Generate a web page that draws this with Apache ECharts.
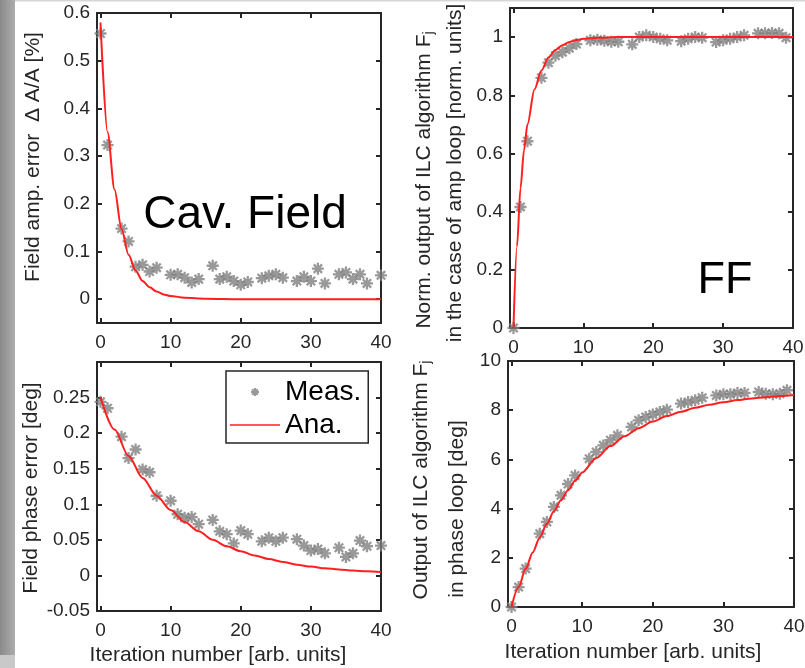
<!DOCTYPE html>
<html>
<head>
<meta charset="utf-8">
<script src="https://cdn.jsdelivr.net/npm/echarts@6/dist/echarts.min.js"></script>
<style>
  html, body { margin: 0; padding: 0; background: #fff; }
  #chart { width: 805px; height: 668px; }
</style>
</head>
<body>
<div id="chart"></div>
<script>
// iteration index of the measured points
const iterations = [0, 1, 2, 3, 4, 5, 6, 7, 8, 9, 10, 11, 12, 13, 14, 15, 16, 17, 18, 19, 20,
  21, 22, 23, 24, 25, 26, 27, 28, 29, 30, 31, 32, 33, 34, 35, 36, 37, 38, 39, 40];

// measured values (null = no marker)
const ampMeas = [0.557, 0.323, null, 0.148, 0.121, 0.068, 0.072, 0.058, 0.066, null, 0.051,
  0.052, 0.045, 0.035, 0.042, null, 0.070, 0.042, 0.047, 0.038, 0.030,
  0.036, null, 0.044, 0.049, 0.052, 0.045, null, 0.038, 0.047, 0.038,
  0.064, 0.033, null, 0.052, 0.056, 0.042, 0.052, 0.033, null, 0.050];
const ffAmpMeas = [0, 0.416, 0.642, null, 0.860, 0.912, 0.936, 0.948, 0.962, 0.976, null,
  0.989, 0.991, 0.987, 0.984, 0.984, null, 0.975, 1.0, 1.006, 1.0,
  0.994, 0.989, null, 0.986, 0.994, 1.0, 0.998, null, 0.983, 0.989,
  0.994, 1.0, 1.006, null, 1.013, 1.013, 1.014, 1.013, 0.998, null];
const phaseMeas = [0.244, 0.235, null, 0.195, 0.165, 0.177, 0.149, 0.145, 0.112, null, 0.105,
  0.086, 0.081, 0.082, 0.072, null, 0.078, 0.062, 0.058, 0.045, 0.063,
  0.058, null, 0.048, 0.053, 0.048, 0.053, null, 0.051, 0.042, 0.035,
  0.037, 0.031, null, 0.039, 0.026, 0.031, 0.049, 0.041, null, 0.042];
const ffPhaseMeas = [0, 0.81, 1.56, null, 2.98, 3.46, 4.07, 4.54, 5.0, 5.35, null,
  6.03, 6.3, 6.57, 6.78, 6.98, null, 7.32, 7.59, 7.72, 7.83,
  7.93, 8.02, null, 8.27, 8.33, 8.4, 8.51, null, 8.6, 8.65,
  8.65, 8.7, 8.7, null, 8.74, 8.67, 8.65, 8.67, 8.81, null];

// analytic curves
const ampAnaX = [0, 1, 2, 3, 4, 5, 6, 7, 8, 9, 10, 12, 15, 20, 30, 40];
const ampAnaY = [0.58, 0.35, 0.23, 0.147, 0.093, 0.06, 0.038, 0.025, 0.016, 0.01, 0.0065, 0.003, 0.001, 0, 0, 0];
const ffAmpAnaX = [0, 0.5, 1, 1.5, 2, 3, 4, 5, 6, 7, 8, 9, 10, 12, 15, 40];
const ffAmpAnaY = [0, 0.28, 0.48, 0.61, 0.70, 0.82, 0.885, 0.93, 0.956, 0.972, 0.983, 0.99, 0.994, 0.998, 1, 1];
const phaseAnaX = [0, 2, 4, 6, 8, 10, 12, 14, 16, 18, 20, 22, 24, 26, 28, 30, 32, 34, 36, 38, 40];
const phaseAnaY = [0.25, 0.205, 0.168, 0.137, 0.112, 0.092, 0.075, 0.062, 0.05, 0.041, 0.034,
  0.028, 0.023, 0.019, 0.015, 0.0125, 0.010, 0.0085, 0.007, 0.0057, 0.0047];
const ffPhaseAnaX = [0, 1, 2, 3, 4, 5, 6, 7, 8, 9, 10, 12, 14, 16, 18, 20, 22, 24, 26, 28, 30, 32, 34, 36, 38, 40];
const ffPhaseAnaY = [0, 0.81, 1.55, 2.22, 2.83, 3.38, 3.89, 4.34, 4.75, 5.13, 5.47, 6.06, 6.54,
  6.94, 7.27, 7.54, 7.76, 7.94, 8.10, 8.22, 8.32, 8.41, 8.48, 8.53, 8.58, 8.62];

// tick labels
const xTicks = [0, 10, 20, 30, 40];
const ampTicks = [0, 0.1, 0.2, 0.3, 0.4, 0.5, 0.6];
const ffAmpTicks = [0, 0.2, 0.4, 0.6, 0.8, 1];
const phaseTicks = [-0.05, 0, 0.05, 0.1, 0.15, 0.2, 0.25];
const ffPhaseTicks = [0, 2, 4, 6, 8, 10];

const FONT = "'Liberation Sans', Arial, sans-serif";
const AXIS = '#262626';
const GREY = '#808080';
const RED = '#ff1f1f';
const STAR = 'path://M0,-1L0,1M-1,0L1,0M-0.7,-0.7L0.7,0.7M-0.7,0.7L0.7,-0.7';
// thin horizontal bar for the legend line (the bare M/L pair fixes the 50x8 box)
const LEGEND_LINE = 'path://M0,0L0,8M0,3.3L50,3.3L50,4.7L0,4.7Z';

const toPairs = (xs, ys) => xs.map((x, i) => [x, ys[i]]).filter(p => p[1] !== null);

const chart = echarts.init(document.getElementById('chart'));

const grids = [
  { left: 97, top: 13, width: 284, height: 310 },
  { left: 510, top: 8, width: 283, height: 320 },
  { left: 97, top: 362, width: 284, height: 249 },
  { left: 508, top: 361, width: 286, height: 246 }
];
const yRanges = [[-0.05, 0.6], [0, 1.1], [-0.05, 0.3], [0, 10]];
const yTicks = [ampTicks, ffAmpTicks, phaseTicks, ffPhaseTicks];

const lineStyle = { color: AXIS, width: 2 };
const xAxis = [];
const yAxis = [];
grids.forEach((g, i) => {
  ['bottom', 'top'].forEach(pos => {
    xAxis.push({
      type: 'value', gridIndex: i, position: pos, min: -0.5, max: 40,
      axisLine: { onZero: false, lineStyle },
      axisTick: { inside: true, length: 5, customValues: xTicks, lineStyle },
      axisLabel: {
        show: pos === 'bottom', customValues: xTicks, margin: 10,
        fontSize: 19, color: AXIS, fontFamily: FONT
      },
      splitLine: { show: false }
    });
  });
  ['left', 'right'].forEach(pos => {
    yAxis.push({
      type: 'value', gridIndex: i, position: pos, min: yRanges[i][0], max: yRanges[i][1],
      axisLine: { show: true, onZero: false, lineStyle },
      axisTick: { show: true, inside: true, length: 5, customValues: yTicks[i], lineStyle },
      axisLabel: {
        show: pos === 'left', customValues: yTicks[i], margin: 7,
        fontSize: 19, color: AXIS, fontFamily: FONT
      },
      splitLine: { show: false }
    });
  });
});

const meas = [ampMeas, ffAmpMeas, phaseMeas, ffPhaseMeas];
const ana = [[ampAnaX, ampAnaY], [ffAmpAnaX, ffAmpAnaY], [phaseAnaX, phaseAnaY], [ffPhaseAnaX, ffPhaseAnaY]];
const series = [];
grids.forEach((g, i) => {
  series.push({
    type: 'scatter', name: 'Meas.', xAxisIndex: 2 * i, yAxisIndex: 2 * i,
    data: toPairs(iterations, meas[i]),
    symbol: STAR, symbolSize: 12,
    itemStyle: { color: GREY, borderColor: GREY, borderWidth: 2.3 },
    z: 2
  });
  series.push({
    type: 'line', name: 'Ana.', xAxisIndex: 2 * i, yAxisIndex: 2 * i,
    data: toPairs(ana[i][0], ana[i][1]),
    showSymbol: false, symbol: 'none', smooth: 0.3, smoothMonotone: 'x',
    lineStyle: { color: RED, width: 2 }, itemStyle: { color: RED },
    z: 3
  });
});

const rotText = (text, x, y, extra) => ({
  type: 'text', x, y, rotation: Math.PI / 2,
  style: Object.assign({
    text, fill: AXIS, font: `21px ${FONT}`, align: 'center', verticalAlign: 'middle'
  }, extra || {})
});
const subRich = {
  a: { fontSize: 21, lineHeight: 22, verticalAlign: 'top', fontFamily: FONT, fill: AXIS },
  s: { fontSize: 14, lineHeight: 14, verticalAlign: 'bottom', padding: [10, 0, 0, 0], fontFamily: FONT, fill: AXIS }
};

chart.setOption({
  animation: false,
  backgroundColor: '#fff',
  grid: grids.map(g => Object.assign({ outerBoundsMode: 'none' }, g)),
  xAxis,
  yAxis,
  legend: {
    orient: 'vertical', left: 226, top: 371,
    data: [
      { name: 'Meas.', icon: STAR },
      { name: 'Ana.', icon: LEGEND_LINE, itemStyle: { color: RED, borderWidth: 0 } }
    ],
    itemWidth: 50, itemHeight: 8, itemGap: 5,
    padding: [7, 7, 4, 4],
    borderColor: AXIS, borderWidth: 1.5, backgroundColor: '#fff',
    textStyle: { fontSize: 28, color: '#000', fontFamily: FONT },
    selectedMode: false
  },
  series,
  graphic: [
    {
      type: 'rect', shape: { x: 0, y: 0, width: 15, height: 668 },
      style: {
        fill: new echarts.graphic.LinearGradient(0, 0, 1, 0, [
          { offset: 0, color: '#8a8a8a' }, { offset: 1, color: '#adadad' }
        ])
      }
    },
    {
      type: 'rect', shape: { x: 0, y: 655, width: 15, height: 13 },
      style: { fill: '#c9c9c9' }
    },
    { type: 'rect', shape: { x: 15, y: 0, width: 790, height: 1.5 }, style: { fill: '#d6d6d6' } },
    rotText('Field amp. error  \u0394 A/A [%]', 33, 157),
    rotText('Field phase error [deg]', 31, 488),
    rotText('{a|Norm. output of ILC algorithm F}{s|j}', 425, 180, { rich: subRich }),
    rotText('in the case of amp loop [norm. units]', 455, 173),
    rotText('{a|Output of ILC algorithm F}{s|j}', 422, 480, { rich: subRich }),
    rotText('in phase loop [deg]', 457, 509),
    {
      type: 'text', x: 218, y: 655,
      style: { text: 'Iteration number [arb. units]', fill: AXIS, font: `21px ${FONT}`, align: 'center', verticalAlign: 'middle' }
    },
    {
      type: 'text', x: 633, y: 652,
      style: { text: 'Iteration number [arb. units]', fill: AXIS, font: `21px ${FONT}`, align: 'center', verticalAlign: 'middle' }
    },
    {
      type: 'text', x: 245, y: 215, z: 10,
      style: { text: 'Cav. Field', fill: '#000', font: `46px ${FONT}`, align: 'center', verticalAlign: 'middle' }
    },
    {
      type: 'text', x: 725, y: 281, z: 10,
      style: { text: 'FF', fill: '#000', font: `45px ${FONT}`, align: 'center', verticalAlign: 'middle' }
    }
  ]
});
</script>
</body>
</html>
